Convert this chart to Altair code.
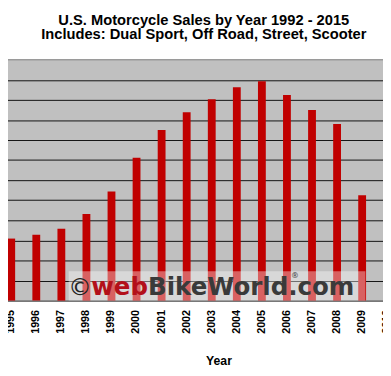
import altair as alt
import pandas as pd

years = [str(y) for y in range(1995, 2010)]
axis_years = [str(y) for y in range(1995, 2011)]
sales = [309000, 328000, 358000, 431000, 544000, 712000, 850000, 938000,
         1003000, 1063000, 1093000, 1024000, 949000, 880000, 525000]
grid_values = list(range(0, 1200000, 100000))

title_lines = ["U.S. Motorcycle Sales by Year 1992 - 2015",
               "Includes: Dual Sport, Off Road, Street, Scooter"]

df = pd.DataFrame({"Year": years, "Sales": sales})
one = pd.DataFrame({"k": [0]})

FONT = "Liberation Sans"

x = alt.X("Year:O",
          scale=alt.Scale(domain=axis_years, range=[-9.5, 400.1],
                          paddingInner=0.6875, paddingOuter=0.34375),
          axis=alt.Axis(title="Year", labelAngle=270, labelFontSize=11,
                        labelFontWeight="bold", labelColor="black",
                        labelFont=FONT, labelPadding=9, ticks=False,
                        domain=False, labelOverlap=False, labelBound=False,
                        titleFont=FONT, titleFontSize=12.5,
                        titleFontWeight="bold", titleColor="black",
                        titleX=215, titleY=65, titleBaseline="alphabetic",
                        titleAnchor="start", titleAlign="center"))
y = alt.Y("Sales:Q",
          scale=alt.Scale(domain=[0, 1200000], nice=False),
          axis=alt.Axis(title=None, labels=False, ticks=False, domain=False,
                        grid=True, values=grid_values, gridColor="#111111",
                        gridWidth=1, gridOpacity=1))

bars = alt.Chart(df).mark_bar(color="#c00000").encode(x=x, y=y)

top_border = alt.Chart(one).mark_rule(color="#9a9a9a", strokeWidth=1.5).encode(
    x=alt.value(0), x2=alt.value(383), y=alt.value(0))

wm_box = alt.Chart(one).mark_rect(fill="white", opacity=0.38).encode(
    x=alt.value(62), x2=alt.value(365), y=alt.value(216), y2=alt.value(246))

wm_copy = alt.Chart(one).mark_text(text="©", font="DejaVu Sans", fontSize=24,
                                   color="#222222", align="center",
                                   baseline="alphabetic").encode(
    x=alt.value(73.5), y=alt.value(240.5))
wm_web = alt.Chart(one).mark_text(text="web", font="DejaVu Sans", fontSize=25,
                                  fontWeight="bold", color="#b3101a",
                                  align="left", baseline="alphabetic").encode(
    x=alt.value(85), y=alt.value(240))
wm_rest = alt.Chart(one).mark_text(text="BikeWorld.com", font="DejaVu Sans",
                                   fontSize=25, fontWeight="bold",
                                   color="#3a3a3a", align="left",
                                   baseline="alphabetic").encode(
    x=alt.value(143), y=alt.value(240))
wm_reg = alt.Chart(one).mark_text(text="®", font="DejaVu Sans", fontSize=8,
                                  color="#3a3a3a", align="center",
                                  baseline="middle").encode(
    x=alt.value(293), y=alt.value(221))

chart = alt.layer(bars, top_border, wm_box, wm_copy, wm_web, wm_rest, wm_reg).properties(
    width=383, height=246,
    title=alt.TitleParams(text=title_lines, font=FONT, fontSize=15,
                          fontWeight="bold", color="black", lineHeight=15,
                          anchor="middle", dx=8.5, offset=5,
                          baseline="alphabetic"),
    autosize=alt.AutoSizeParams(type="none"),
    padding={"left": 0, "top": 49, "right": 0, "bottom": 65},
    background="white",
).configure_view(fill="#c0c0c0", stroke=None)

chart.save("out.html", embed_options={"renderer": "svg", "actions": False})
